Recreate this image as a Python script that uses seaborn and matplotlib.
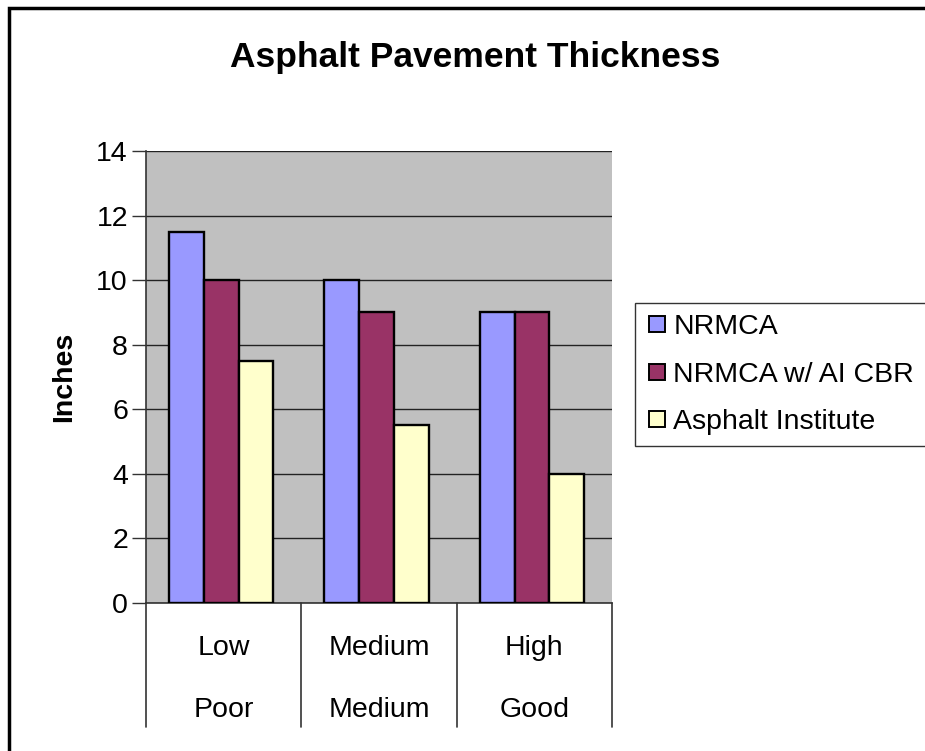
import matplotlib
matplotlib.use("Agg")
import matplotlib.pyplot as plt
import seaborn as sns
import pandas as pd
from matplotlib.patches import Rectangle
from matplotlib.lines import Line2D

# Category labels (two rows) and series values
soil_support = ["Low", "Medium", "High"]
subgrade = ["Poor", "Medium", "Good"]
methods = ["NRMCA", "NRMCA w/ AI CBR", "Asphalt Institute"]
nrmca = [11.5, 10.0, 9.0]
nrmca_ai_cbr = [10.0, 9.0, 9.0]
asphalt_institute = [7.5, 5.5, 4.0]
colors = ["#9999FF", "#993366", "#FFFFCC"]

rows = []
for name, vals in zip(methods, [nrmca, nrmca_ai_cbr, asphalt_institute]):
    for cat, v in zip(soil_support, vals):
        rows.append({"level": cat, "inches": v, "method": name})
df = pd.DataFrame(rows)

sns.set_style("white")
plt.rcParams["font.family"] = ["Liberation Sans", "DejaVu Sans"]
plt.rcParams.update({"text.color": "black", "axes.labelcolor": "black",
                     "xtick.color": "black", "ytick.color": "black"})

fig = plt.figure(figsize=(9.25, 7.51), dpi=100)
ax = fig.add_axes([146 / 925, 1 - 603 / 751, (612 - 146) / 925, (603 - 151) / 751])
ax.set_facecolor("#C0C0C0")

sns.barplot(data=df, x="level", y="inches", hue="method", palette=colors,
            order=soil_support, hue_order=methods, width=0.67, saturation=1,
            edgecolor="black", linewidth=1.7, ax=ax, legend=False, zorder=3)

ax.set_ylim(0, 14)
ax.set_xlim(-0.484, 2.516)
ax.set_yticks(range(0, 15, 2))
ax.tick_params(axis="y", labelsize=20.5, length=10, width=1, color="#333333",
               direction="out", left=True, pad=3)
ax.tick_params(axis="x", bottom=False, labelbottom=False)
ax.yaxis.grid(True, color="#222222", linewidth=1)
ax.set_axisbelow(True)
ax.set_xlabel("")
ax.set_ylabel("Inches", fontsize=20.5, fontweight="bold", labelpad=14)

for side in ["top", "right"]:
    ax.spines[side].set_visible(False)
for side in ["left", "bottom"]:
    ax.spines[side].set_color("#333333")
    ax.spines[side].set_linewidth(1.2)

# Two-level category labels with separators below the axis
drop = (727 - 603) / (603 - 151)
n = len(soil_support)
for i, (a, b) in enumerate(zip(soil_support, subgrade)):
    xc = (i + 0.5) / n
    ax.text(xc, -(648 - 603) / 452, a, transform=ax.transAxes, ha="center",
            va="center", fontsize=20.5, clip_on=False)
    ax.text(xc, -(710 - 603) / 452, b, transform=ax.transAxes, ha="center",
            va="center", fontsize=20.5, clip_on=False)
for k in range(n + 1):
    ax.plot([k / n, k / n], [0, -drop], transform=ax.transAxes, color="#333333",
            linewidth=1.2, clip_on=False)

fig.text(475 / 925, 1 - 58 / 751, "Asphalt Pavement Thickness", fontsize=25.5,
         fontweight="bold", ha="center", va="center")

# Legend
handles = [Line2D([], [], marker="s", linestyle="none", markersize=11,
                  markerfacecolor=c, markeredgecolor="black", markeredgewidth=1.4)
           for c in colors]
leg = fig.legend(handles, methods, loc="upper left",
                 bbox_to_anchor=(635 / 925, 1 - 303 / 751), fontsize=20.5,
                 frameon=True, fancybox=False, edgecolor="black",
                 borderpad=0.4, handletextpad=0.2, labelspacing=0.75,
                 handlelength=0.75, borderaxespad=0)
leg.get_frame().set_linewidth(1.0)

# Chart border
fig.patches.append(Rectangle((8.5 / 925, -0.1), 1.2, 1 - 8 / 751 + 0.1,
                             transform=fig.transFigure, fill=False,
                             edgecolor="black", linewidth=2.5))

fig.savefig("out.png", dpi=100, facecolor="white")
